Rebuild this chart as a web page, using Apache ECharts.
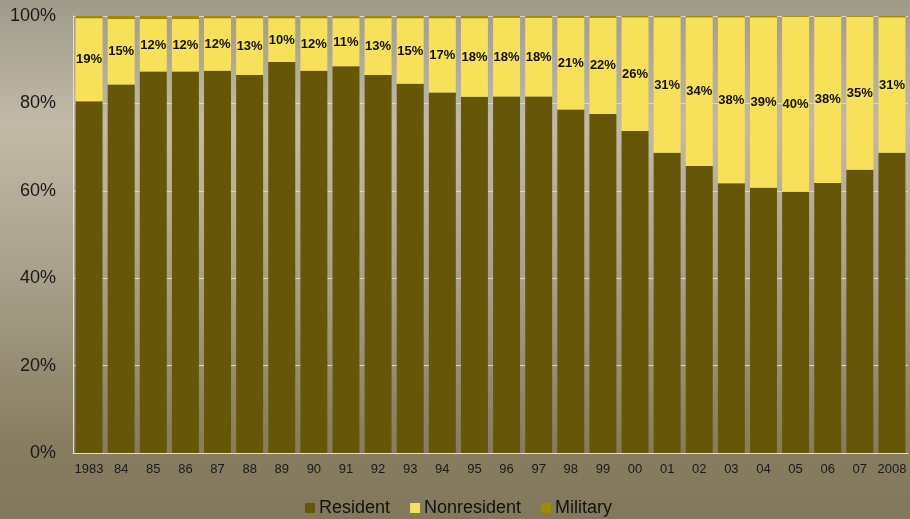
<!DOCTYPE html>
<html>
<head>
<meta charset="utf-8">
<script src="https://cdn.jsdelivr.net/npm/echarts@6/dist/echarts.min.js"></script>
<style>
  html, body { margin: 0; padding: 0; }
  #chart {
    width: 910px; height: 519px;
    background: linear-gradient(to bottom, #a09a8b 0%, #c2baa7 24%, #a79e89 55%, #887d60 85%, #83785b 100%);
  }
</style>
</head>
<body>
<div id="chart"></div>
<script>
// Share of students by residency status, 1983–2008 (percent of total)
const years = ['1983','84','85','86','87','88','89','90','91','92','93','94','95','96','97','98','99','00','01','02','03','04','05','06','07','2008'];
const resident = [80.5,84.3,87.3,87.3,87.5,86.5,89.5,87.5,88.5,86.5,84.5,82.5,81.5,81.6,81.6,78.6,77.6,73.7,68.7,65.7,61.7,60.7,59.8,61.8,64.8,68.7];
const nonresident = [19,15,12,12,12,13,10,12,11,13,15,17,18,18,18,21,22,26,31,34,38,39,40,38,35,31];
const military = [0.5,0.7,0.7,0.7,0.5,0.5,0.5,0.5,0.5,0.5,0.5,0.5,0.5,0.4,0.4,0.4,0.4,0.3,0.3,0.3,0.3,0.3,0.2,0.2,0.2,0.3];
const yTicks = [0, 20, 40, 60, 80, 100];

const chart = echarts.init(document.getElementById('chart'), null, { renderer: 'canvas' });
const font = 'Arial, "Liberation Sans", sans-serif';

chart.setOption({
  backgroundColor: 'transparent',
  animation: false,
  grid: { left: 73, right: 2, top: 16, bottom: 66, containLabel: false },
  legend: {
    data: ['Resident', 'Nonresident', 'Military'],
    left: 300, top: 494,
    itemWidth: 10, itemHeight: 10, itemGap: 20,
    icon: 'rect',
    textStyle: { fontFamily: font, fontSize: 18, color: '#111', padding: [0, 0, 0, -1] }
  },
  xAxis: {
    type: 'category',
    data: years,
    axisLine: { show: true, lineStyle: { color: '#e2ded2', width: 1 } },
    axisTick: { show: false },
    axisLabel: { fontFamily: font, fontSize: 13, color: '#1a1a1a', margin: 10, interval: 0 }
  },
  yAxis: {
    type: 'value',
    min: yTicks[0], max: yTicks[yTicks.length - 1], interval: 20,
    axisLine: { show: true, lineStyle: { color: '#e2ded2', width: 1 } },
    axisTick: { show: false },
    splitLine: { show: true, lineStyle: { color: '#dcd7ca', width: 1 } },
    axisLabel: { fontFamily: font, fontSize: 18, color: '#1a1a1a', margin: 17, formatter: '{value}%' }
  },
  series: [
    {
      name: 'Resident', type: 'bar', stack: 'total',
      data: resident, barCategoryGap: '16%',
      itemStyle: { color: '#665708' }
    },
    {
      name: 'Nonresident', type: 'bar', stack: 'total',
      data: nonresident,
      itemStyle: { color: '#f7e05a' },
      label: {
        show: true, position: 'inside',
        formatter: p => p.value + '%',
        fontFamily: font, fontSize: 13, fontWeight: 'bold', color: '#111'
      }
    },
    {
      name: 'Military', type: 'bar', stack: 'total',
      data: military,
      itemStyle: { color: '#a08a00' }
    }
  ]
});
</script>
</body>
</html>
